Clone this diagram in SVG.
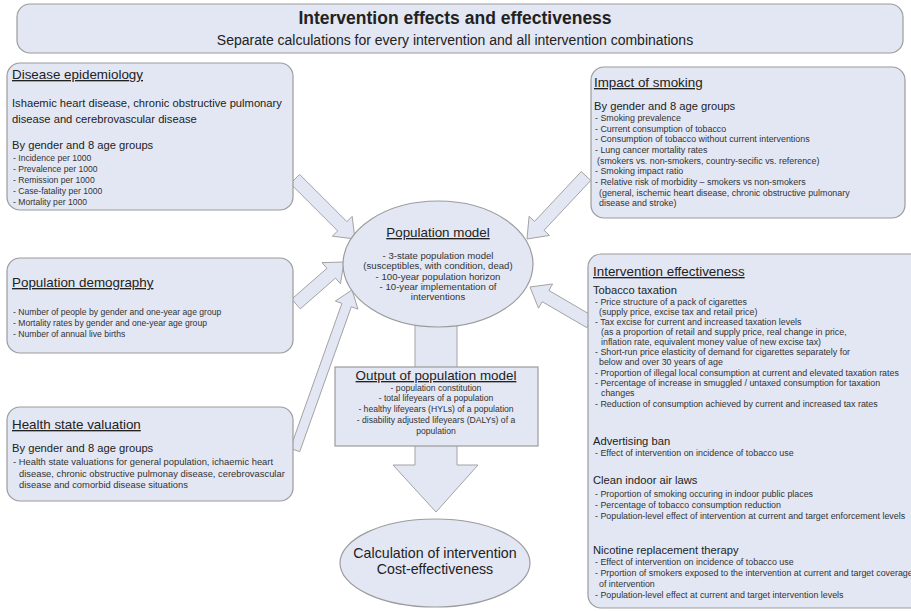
<svg xmlns="http://www.w3.org/2000/svg" width="911" height="611" viewBox="0 0 911 611">
<style>
.box{fill:#e2e7f3;stroke:#9c9c9c;stroke-width:1.2}
.arr{fill:#e2e7f3;stroke:#a3a3a3;stroke-width:1}
text{font-family:"Liberation Sans",Arial,sans-serif;fill:#222}
.h{font-size:13.4px;text-decoration:underline}
.m{font-size:11.2px}
.s{font-size:8.6px;fill:#333}
.r{font-size:8.9px}
.v{font-size:9.4px}
.c{text-anchor:middle}
</style>
<rect width="911" height="611" fill="#ffffff"/>
<g id="connectors">
<polygon class="arr" points="290.4,183.6 337.67,230.87 332.37,236.17 355,239 352.17,216.37 346.87,221.67 299.6,174.4"/>
<polygon class="arr" points="300.28,308.89 335.49,278.08 340.43,283.73 344,262 321.99,262.65 326.93,268.3 291.72,299.11"/>
<polygon class="arr" points="299.71,451.68 351.34,306.75 357.93,309.1 352,290 335.33,301.04 341.92,303.39 290.29,448.32"/>
<polygon class="arr" points="581.26,171.56 534.56,221.42 529.08,216.29 527,239 549.52,235.43 544.04,230.3 590.74,180.44"/>
<polygon class="arr" points="593.28,316.39 548.83,290.46 552.6,283.98 530,287 538.5,308.16 542.27,301.68 586.72,327.61"/>
<polygon class="arr" points="415,320 457,320 457,465 478,465 436,512 393,465 415,465"/>
</g>
<g id="header">
<rect class="box" x="17" y="4" width="886" height="49" rx="13"/>
<text class="c" x="455" y="24" style="font-size:17.5px;font-weight:bold">Intervention effects and effectiveness</text>
<text class="c" x="455" y="45" style="font-size:14px">Separate calculations for every intervention and all intervention combinations</text>
</g>
<g id="disease-epidemiology">
<rect class="box" x="7" y="63" width="286" height="147" rx="13"/>
<text class="h" x="12" y="79">Disease epidemiology</text>
<text class="m" x="12" y="107">Ishaemic heart disease, chronic obstructive pulmonary</text>
<text class="m" x="12" y="123">disease and cerebrovascular disease</text>
<text class="m" x="12" y="149">By gender and 8 age groups</text>
<text class="s" x="13" y="161">- Incidence per 1000</text>
<text class="s" x="13" y="172">- Prevalence per 1000</text>
<text class="s" x="13" y="183">- Remission per 1000</text>
<text class="s" x="13" y="194">- Case-fatality per 1000</text>
<text class="s" x="13" y="205">- Mortality per 1000</text>
</g>
<g id="population-demography">
<rect class="box" x="7" y="258" width="286" height="95" rx="13"/>
<text class="h" x="12" y="287">Population demography</text>
<text class="s" x="13" y="315">- Number of people by gender and one-year age group</text>
<text class="s" x="13" y="326">- Mortality rates by gender and one-year age group</text>
<text class="s" x="13" y="337">- Number of annual live births</text>
</g>
<g id="health-state-valuation">
<rect class="box" x="7" y="407" width="286" height="94" rx="13"/>
<text class="h" x="12" y="429">Health state valuation</text>
<text class="m" x="12" y="452">By gender and 8 age groups</text>
<text class="s v" x="13" y="465">- Health state valuations for general population, ichaemic heart</text>
<text class="s v" x="19" y="477">disease, chronic obstructive pulmonay disease, cerebrovascular</text>
<text class="s v" x="19" y="488">disease and comorbid disease situations</text>
</g>
<g id="impact-of-smoking">
<rect class="box" x="591" y="67" width="314" height="151" rx="13"/>
<text class="h" x="594" y="87">Impact of smoking</text>
<text class="m" x="594" y="110">By gender and 8 age groups</text>
<text class="s r" x="595" y="121">- Smoking prevalence</text>
<text class="s r" x="595" y="132">- Current consumption of tobacco</text>
<text class="s r" x="595" y="142">- Consumption of tobacco without current interventions</text>
<text class="s r" x="595" y="153">- Lung cancer mortality rates</text>
<text class="s r" x="597" y="164">(smokers vs. non-smokers, country-secific vs. reference)</text>
<text class="s r" x="595" y="174">- Smoking impact ratio</text>
<text class="s r" x="595" y="185">- Relative risk of morbidity –   smokers vs non-smokers</text>
<text class="s r" x="599" y="196">(general, ischemic heart disease, chronic obstructive pulmonary</text>
<text class="s r" x="599" y="206">disease and stroke)</text>
</g>
<g id="intervention-effectiveness">
<rect class="box" x="588" y="254" width="340" height="354" rx="13"/>
<text class="h" x="593" y="276">Intervention effectiveness</text>
<text class="m" x="593" y="294">Tobacco taxation</text>
<text class="s r" x="595" y="305">- Price structure of a pack of cigarettes</text>
<text class="s r" x="599" y="315">(supply price, excise tax and retail price)</text>
<text class="s r" x="595" y="325">- Tax excise for current and increased taxation levels</text>
<text class="s r" x="601" y="335">(as a proportion of retail and supply price, real change in price,</text>
<text class="s r" x="601" y="345">inflation rate, equivalent money value of new excise tax)</text>
<text class="s r" x="595" y="355">- Short-run price elasticity of demand for cigarettes separately for</text>
<text class="s r" x="599" y="365">below and over 30 years of age</text>
<text class="s r" x="595" y="376">- Proportion of illegal local consumption at current and elevated taxation rates</text>
<text class="s r" x="595" y="386">- Percentage of increase in smuggled / untaxed consumption for taxation</text>
<text class="s r" x="601" y="396">changes</text>
<text class="s r" x="595" y="407">- Reduction of consumption achieved by current and increased tax rates</text>
<text class="m" x="593" y="445">Advertising ban</text>
<text class="s r" x="595" y="456">- Effect of intervention on incidence of tobacco use</text>
<text class="m" x="593" y="484">Clean indoor air laws</text>
<text class="s r" x="595" y="497">- Proportion of smoking occuring in indoor public places</text>
<text class="s r" x="595" y="508">- Percentage of tobacco consumption reduction</text>
<text class="s r" x="595" y="519">- Population-level effect of intervention at current and target enforcement levels</text>
<text class="m" x="593" y="554">Nicotine replacement therapy</text>
<text class="s r" x="595" y="565">- Effect of intervention on incidence of tobacco use</text>
<text class="s r" x="595" y="576">- Prportion of smokers exposed to the intervention at current and target coverage</text>
<text class="s r" x="599" y="587">of intervention</text>
<text class="s r" x="595" y="598">- Population-level effect at current and target intervention levels</text>
</g>
<g id="population-model">
<ellipse class="box" cx="438" cy="264" rx="95" ry="63"/>
<text class="h c" x="438" y="237">Population model</text>
<text class="s c" x="438" y="259" style="font-size:9.6px">- 3-state population model</text>
<text class="s c" x="438" y="269" style="font-size:9.6px">(susceptibles, with condition, dead)</text>
<text class="s c" x="438" y="280" style="font-size:9.6px">- 100-year population horizon</text>
<text class="s c" x="438" y="290" style="font-size:9.6px">- 10-year implementation of</text>
<text class="s c" x="438" y="300" style="font-size:9.6px">interventions</text>
</g>
<g id="output-of-population-model">
<rect class="box" x="335" y="367" width="203" height="79"/>
<text class="h c" x="436" y="380">Output of population model</text>
<text class="s c" x="436" y="391">- population constitution</text>
<text class="s c" x="436" y="401">- total lifeyears of a population</text>
<text class="s c" x="436" y="412">- healthy lifeyears (HYLs) of a population</text>
<text class="s c" x="436" y="423">- disability adjusted lifeyears (DALYs) of a</text>
<text class="s c" x="436" y="434">population</text>
</g>
<g id="cost-effectiveness">
<ellipse class="box" cx="435" cy="563" rx="95" ry="44"/>
<text class="c" x="435" y="558" style="font-size:14.2px">Calculation of intervention</text>
<text class="c" x="435" y="574" style="font-size:14.2px">Cost-effectiveness</text>
</g>
</svg>
